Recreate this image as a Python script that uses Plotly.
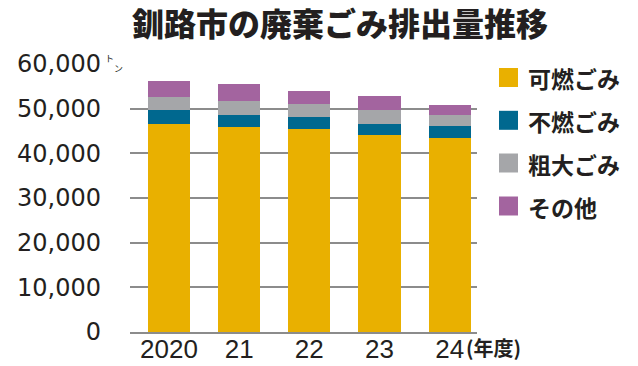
import plotly.graph_objects as go

years = ["2020", "21", "22", "23", "24"]
kanen = [46600, 45800, 45500, 44200, 43500]      # 可燃ごみ
funen = [3150, 2850, 2700, 2400, 2550]           # 不燃ごみ
sodai = [2900, 3150, 2900, 3000, 2600]           # 粗大ごみ
sonota = [3450, 3800, 2750, 3300, 2250]          # その他

series_names = ["可燃ごみ", "不燃ごみ", "粗大ごみ", "その他"]
series_vals = [kanen, funen, sodai, sonota]
colors = ["#E9B000", "#00688F", "#A5A6A9", "#A3649F"]

y_ticks = [0, 10000, 20000, 30000, 40000, 50000, 60000]
y_ticktext = ["0", "10,000", "20,000", "30,000", "40,000", "50,000", "60,000"]

fig = go.Figure()
for name, vals, col in zip(series_names, series_vals, colors):
    fig.add_trace(go.Bar(x=years, y=vals, name=name, marker=dict(color=col, line=dict(width=0)),
                         width=0.6, showlegend=False))

L, R, T, B = 130, 161, 64, 34
W, H = 638, 366
pw = W - L - R
ph = H - T - B

def px_x(px):
    return (px - L) / pw

def px_y(py):
    return (H - B - py) / ph

shapes = []
annotations = []
# legend drawn manually
leg_centers = [77.5, 120.3, 163, 206]
for name, col, cy in zip(series_names, colors, leg_centers):
    shapes.append(dict(type="rect", xref="paper", yref="paper",
                       x0=px_x(499), x1=px_x(518), y0=px_y(cy + 9.5), y1=px_y(cy - 9.5),
                       fillcolor=col, line=dict(width=0)))
    annotations.append(dict(text=name, xref="paper", yref="paper", x=px_x(526), y=px_y(cy + 1),
                            xanchor="left", yanchor="middle", showarrow=False,
                            font=dict(family="Noto Sans CJK JP", size=23, color="#231F20", weight="bold")))

# unit トン
annotations.append(dict(text="ト", xref="paper", yref="paper", x=px_x(109.5), y=px_y(59),
                        xanchor="center", yanchor="middle", showarrow=False,
                        font=dict(family="Noto Sans CJK JP", size=9, color="#231F20")))
annotations.append(dict(text="ン", xref="paper", yref="paper", x=px_x(118.5), y=px_y(68),
                        xanchor="center", yanchor="middle", showarrow=False,
                        font=dict(family="Noto Sans CJK JP", size=9, color="#231F20")))
# (年度)
annotations.append(dict(text="(年度)", xref="paper", yref="paper", x=px_x(464), y=px_y(347),
                        xanchor="left", yanchor="middle", showarrow=False,
                        font=dict(family="Noto Sans CJK JP", size=20, color="#231F20", weight="bold")))

fig.update_layout(
    barmode="stack",
    width=W, height=H,
    margin=dict(l=L, r=R, t=T, b=B, pad=0, autoexpand=False),
    paper_bgcolor="white", plot_bgcolor="white",
    title=dict(text="釧路市の廃棄ごみ排出量推移", x=(340) / W, xanchor="center",
               y=1 - 25 / H, yanchor="middle", automargin=False,
               font=dict(family="Noto Sans CJK JP", size=32, color="#231F20", weight=900)),
    xaxis=dict(range=[-0.556, 4.39], showgrid=False, zeroline=False, automargin=False,
               showline=True, linecolor="#8C8C8C", linewidth=2, ticks="",
               tickfont=dict(family="Liberation Sans", size=26, color="#231F20"),
               ticklabelstandoff=-7),
    yaxis=dict(range=[0, 60000], tickvals=y_ticks, ticktext=y_ticktext, automargin=False,
               showgrid=True, gridcolor="#8C8C8C", gridwidth=2, zeroline=False,
               showline=False, ticks="",
               tickfont=dict(family="DejaVu Sans", size=24, color="#231F20"),
               ticklabelstandoff=28),
    shapes=shapes,
    annotations=annotations,
    bargap=0.4,
)

fig.write_html("out.html", config={"displayModeBar": False},
               post_script="document.body.style.margin='0';document.body.style.padding='0';")
